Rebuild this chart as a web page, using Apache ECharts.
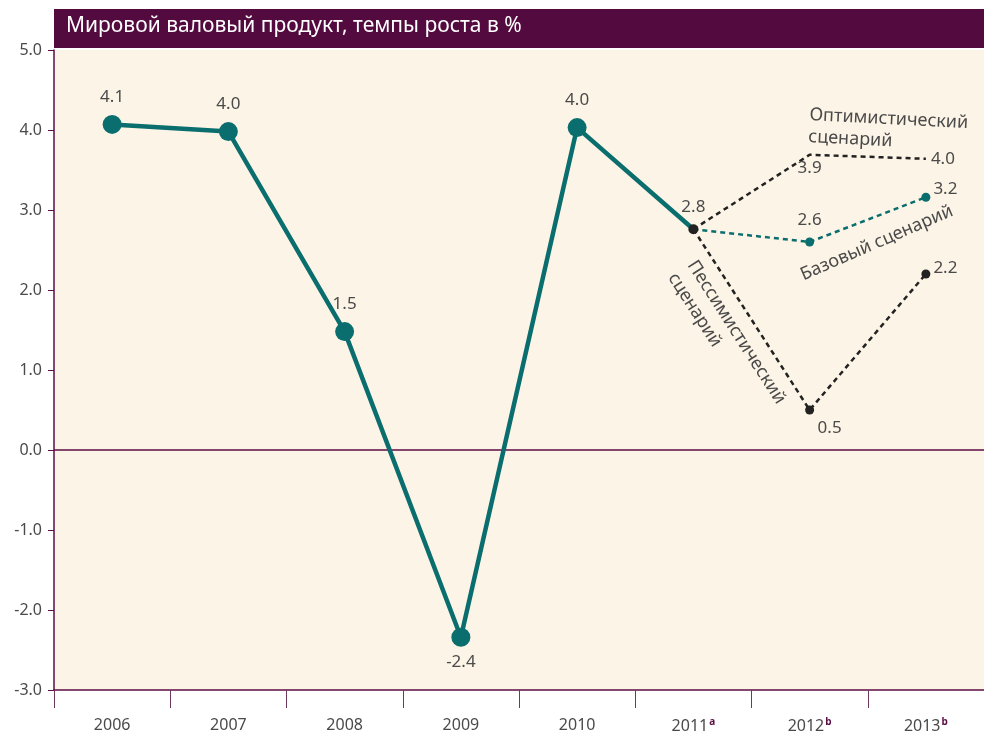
<!DOCTYPE html>
<html>
<head>
<meta charset="utf-8">
<script src="https://cdn.jsdelivr.net/npm/echarts@6/dist/echarts.min.js"></script>
<style>
  html, body { margin: 0; padding: 0; background: #fff; }
  #chart { width: 984px; height: 740px; }
</style>
</head>
<body>
<div id="chart"></div>
<script>
// data
const years = ["2006", "2007", "2008", "2009", "2010", "2011", "2012", "2013"];
const yearNotes = ["", "", "", "", "", "a", "b", "b"];

const actual = [4.07, 3.98, 1.48, -2.34, 4.03, 2.76, null, null];
const actualLabels = ["4.1", "4.0", "1.5", "-2.4", "4.0", "2.8", "", ""];

const optimistic = [null, null, null, null, null, 2.76, 3.69, 3.64];
const optimisticLabels = ["", "", "", "", "", "", "3.9", "4.0"];

const baseline = [null, null, null, null, null, 2.76, 2.6, 3.16];
const baselineLabels = ["", "", "", "", "", "", "2.6", "3.2"];

const pessimistic = [null, null, null, null, null, 2.76, 0.5, 2.2];
const pessimisticLabels = ["", "", "", "", "", "", "0.5", "2.2"];

const TEAL = "#0a6e6e";
const DARK = "#222222";
const PURPLE = "#5c0d45";
const LABEL = "#4a4a4a";
const FONT = "Noto Sans";

const chart = echarts.init(document.getElementById("chart"));

function labelOf(list) {
  return p => list[p.dataIndex];
}

function scenario(name, data, labels, color, withDots, labelPos, labelShift) {
  return {
    name: name,
    type: "line",
    data: data.map((v, i) => {
      if (v == null) return null;
      return {
        value: v,
        symbolSize: withDots && i > 5 ? 9 : 0,
        label: {
          show: labels[i] !== "",
          position: labelPos[i] || "right",
          distance: 5,
          offset: labelShift[i] || [0, 0]
        }
      };
    }),
    symbol: "circle",
    showSymbol: true,
    connectNulls: false,
    lineStyle: { color: color, width: 2.5, type: [5, 4] },
    itemStyle: { color: color },
    label: {
      formatter: labelOf(labels),
      color: LABEL,
      fontFamily: FONT,
      fontSize: 17
    },
    z: 2
  };
}

const option = {
  backgroundColor: "#fff",
  animation: false,
  grid: {
    left: 54,
    right: 0,
    top: 50,
    bottom: 50,
    show: true,
    backgroundColor: "#fcf4e6",
    borderWidth: 0
  },
  xAxis: {
    type: "category",
    data: years,
    boundaryGap: true,
    axisLine: { onZero: false, lineStyle: { color: PURPLE, width: 1.5 } },
    axisTick: { show: true, interval: 0, length: 18, lineStyle: { color: "#6d3a5e", width: 1 } },
    axisLabel: {
      interval: 0,
      margin: 27,
      color: LABEL,
      fontFamily: FONT,
      fontSize: 16,
      formatter: (v, i) => yearNotes[i] ? v + "{sup|" + yearNotes[i] + "}" : v,
      rich: {
        sup: {
          fontSize: 10,
          fontWeight: "bold",
          color: PURPLE,
          verticalAlign: "top",
          padding: [0, 0, 8, 1]
        }
      }
    }
  },
  yAxis: {
    type: "value",
    min: -3,
    max: 5,
    interval: 1,
    axisLine: { show: true, lineStyle: { color: PURPLE, width: 1.5 } },
    axisTick: { show: true, length: 6, lineStyle: { color: PURPLE } },
    splitLine: { show: false },
    axisLabel: {
      margin: 12,
      color: LABEL,
      fontFamily: FONT,
      fontSize: 16,
      formatter: v => v.toFixed(1)
    }
  },
  graphic: [
    {
      type: "rect",
      left: 54,
      top: 9,
      shape: { width: 930, height: 39 },
      style: { fill: "#530b3f" },
      z: 10
    },
    {
      type: "text",
      left: 66,
      top: 16,
      style: {
        text: "Мировой валовый продукт, темпы роста в %",
        fill: "#fff",
        font: "21px 'Noto Sans'"
      },
      z: 11
    },
    {
      type: "text",
      x: 810,
      y: 104,
      rotation: -0.05,
      style: {
        text: "Оптимистический\nсценарий",
        fill: LABEL,
        font: "18px 'Noto Sans'",
        lineHeight: 22,
        textAlign: "left",
        textVerticalAlign: "top"
      },
      z: 11
    },
    {
      type: "text",
      x: 805,
      y: 284,
      rotation: 0.41,
      style: {
        text: "Базовый сценарий",
        fill: LABEL,
        font: "18px 'Noto Sans'",
        textAlign: "left",
        textVerticalAlign: "bottom"
      },
      z: 11
    },
    {
      type: "text",
      x: 701,
      y: 256,
      rotation: -1.0,
      style: {
        text: "Пессимистический\nсценарий",
        fill: LABEL,
        font: "18px 'Noto Sans'",
        lineHeight: 23,
        textAlign: "left",
        textVerticalAlign: "top"
      },
      z: 11
    }
  ],
  series: [
    scenario("Оптимистический", optimistic, optimisticLabels, DARK, false,
      { 6: "bottom", 7: "right" }, {}),
    scenario("Базовый", baseline, baselineLabels, TEAL, true,
      { 6: "top", 7: "right" }, { 6: [0, -4], 7: [-2, -8] }),
    scenario("Пессимистический", pessimistic, pessimisticLabels, DARK, true,
      { 6: "bottom", 7: "right" }, { 6: [20, 0], 7: [-2, -6] }),
    {
      name: "Факт",
      type: "line",
      data: actual.map((v, i) => {
        if (v == null) return null;
        if (i === 5) {
          return { value: v, symbolSize: 10, itemStyle: { color: DARK } };
        }
        return { value: v };
      }),
      symbol: "circle",
      symbolSize: 19,
      lineStyle: { color: TEAL, width: 4.5 },
      itemStyle: { color: TEAL },
      label: {
        show: true,
        position: "top",
        distance: 9,
        formatter: labelOf(actualLabels),
        color: LABEL,
        fontFamily: FONT,
        fontSize: 17
      },
      labelLayout: p => p.dataIndex === 3 ? { dy: 52 } : {},
      markLine: {
        silent: true,
        symbol: "none",
        label: { show: false },
        lineStyle: { color: PURPLE, width: 1.5, type: "solid" },
        data: [{ yAxis: 0 }]
      },
      z: 5
    }
  ]
};

chart.setOption(option);
</script>
</body>
</html>
